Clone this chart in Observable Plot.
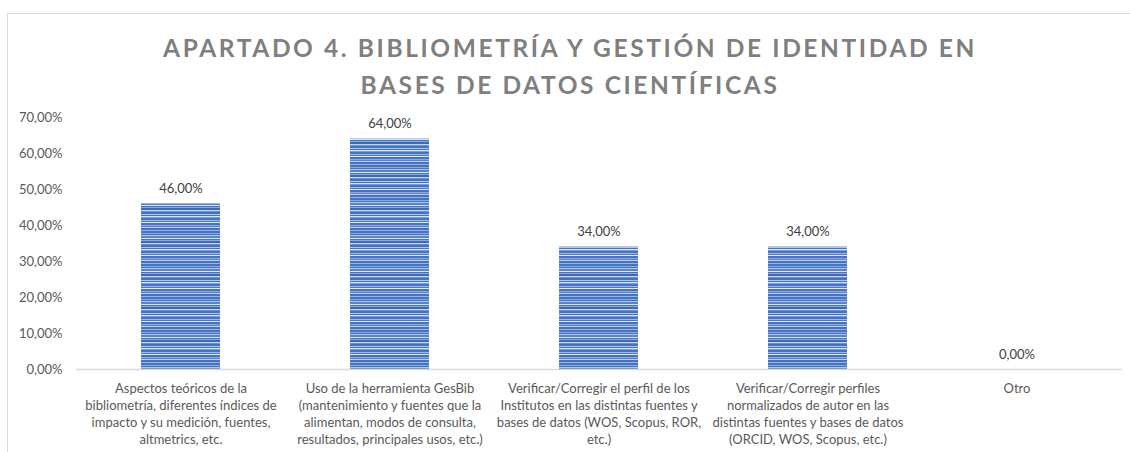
<!DOCTYPE html>
<html>
<head>
<meta charset="utf-8">
<script src="https://cdn.jsdelivr.net/npm/d3@7"></script>
<script src="https://cdn.jsdelivr.net/npm/@observablehq/plot@0.6"></script>
<style>
  html, body { margin: 0; padding: 0; background: #fff; }
  #wrap { position: relative; width: 1130px; height: 452px; overflow: hidden; }
  #frame { position: absolute; left: 7px; top: 13px; width: 1130px; height: 452px;
           border-left: 1.5px solid #d9d9d9; border-top: 1.5px solid #d9d9d9; box-sizing: border-box; }
  #title { position: absolute; left: 0; width: 1140px; top: 29px; text-align: center;
           font-family: Lato, sans-serif; font-weight: bold; font-size: 24.5px;
           letter-spacing: 2.6px; color: #7f7f7f; line-height: 37px; }
  #chart { position: absolute; left: 0; top: 0; }
</style>
</head>
<body>
<div id="wrap">
  <div id="frame"></div>
  <div id="title">APARTADO 4. BIBLIOMETRÍA Y GESTIÓN DE IDENTIDAD EN<br>BASES DE DATOS CIENTÍFICAS</div>
  <div id="chart"></div>
</div>
<script>
const categories = [
  "Aspectos teóricos de la\nbibliometría, diferentes índices de\nimpacto y su medición, fuentes,\naltmetrics, etc.",
  "Uso de la herramienta GesBib\n(mantenimiento y fuentes que la\nalimentan, modos de consulta,\nresultados, principales usos, etc.)",
  "Verificar/Corregir el perfil de los\nInstitutos en las distintas fuentes y\nbases de datos (WOS, Scopus, ROR,\netc.)",
  "Verificar/Corregir perfiles\nnormalizados de autor en las\ndistintas fuentes y bases de datos\n(ORCID, WOS, Scopus, etc.)",
  "Otro"
];
const values = [46, 64, 34, 34, 0];
const yTicks = [0, 10, 20, 30, 40, 50, 60, 70];

const data = categories.map((c, i) => ({cat: c, value: values[i]}));
const fmt = v => v.toFixed(2).replace(".", ",") + "%";

const chart = Plot.plot({
  width: 1130,
  height: 452,
  marginLeft: 76,
  marginRight: 8,
  marginTop: 117,
  marginBottom: 83,
  style: {fontFamily: "Lato, sans-serif", fontSize: "13px", color: "#595959", background: "transparent"},
  x: {domain: categories, paddingInner: 0.62, paddingOuter: 0.31, axis: null},
  y: {domain: [0, 70], ticks: yTicks, tickFormat: fmt, tickSize: 0, tickPadding: 14, label: null},
  marks: [
    Plot.barY(data, {x: "cat", y: "value", fill: "url(#stripes)"}),
    Plot.ruleY([0], {stroke: "#d9d9d9", strokeWidth: 1.5}),
    Plot.text(data, {x: "cat", y: "value", text: d => fmt(d.value), dy: -15, fill: "#404040", fontSize: 13}),
    Plot.text(data, {x: "cat", y: 0, text: "cat", dy: 11, lineAnchor: "top", lineHeight: 1.32, fill: "#595959", fontSize: 13})
  ]
});

const svg = d3.select(chart);
const defs = svg.insert("defs", ":first-child");
const pat = defs.append("pattern").attr("id", "stripes")
  .attr("patternUnits", "userSpaceOnUse").attr("width", 10).attr("height", 36);
const stripes = [
  ["#4472c4", 2], ["#8eaadb", 1], ["#4472c4", 1], ["#b4c6e7", 1], ["#5b82c9", 2], ["#dae3f3", 1],
  ["#4472c4", 1], ["#8eaadb", 1], ["#3f69b5", 2], ["#c9d6ee", 1], ["#6a8fd0", 1], ["#4472c4", 2],
  ["#b4c6e7", 1], ["#4472c4", 1], ["#dae3f3", 1], ["#7d9cd6", 1], ["#4472c4", 2], ["#a3b9e3", 1],
  ["#4a77c6", 1], ["#e4ebf6", 1], ["#4472c4", 2], ["#8eaadb", 1], ["#5b82c9", 1], ["#c3d2ec", 1],
  ["#4472c4", 2], ["#9bb3df", 1]
];
let yy = 0;
for (const [c, h] of stripes) {
  pat.append("rect").attr("x", 0).attr("y", yy).attr("width", 10).attr("height", h).attr("fill", c);
  yy += h;
}
pat.attr("height", yy);
svg.selectAll("g[aria-label='y-axis tick label'] text").attr("fill", "#595959");
document.getElementById("chart").appendChild(chart);
</script>
</body>
</html>
